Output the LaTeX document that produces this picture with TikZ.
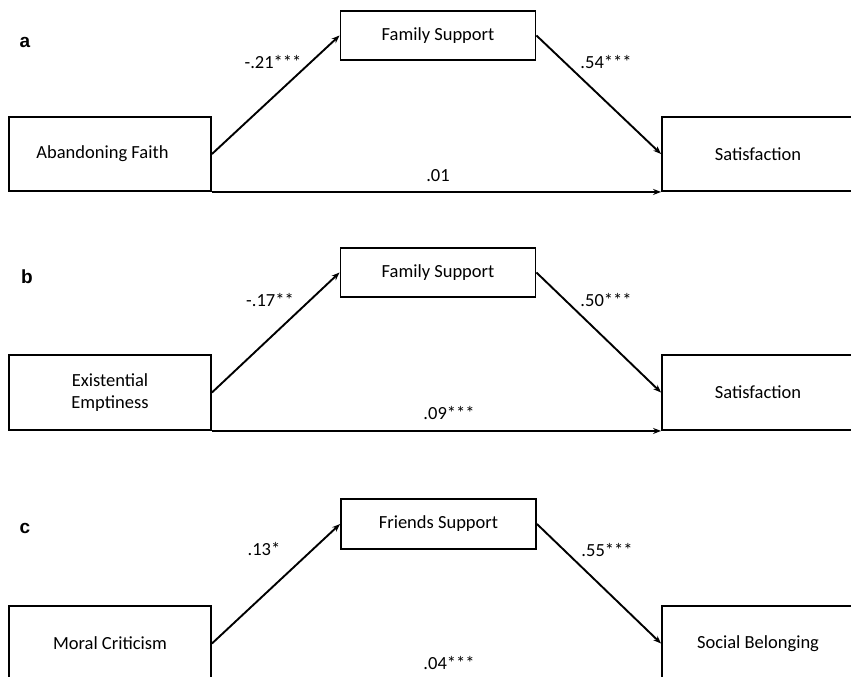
\documentclass[tikz,border=0pt]{standalone}
\usepackage{fontspec}
\setmainfont{Carlito}
\newfontfamily\panelfont{Liberation Sans}
\usetikzlibrary{arrows.meta}
\begin{document}
\begin{tikzpicture}[x=1pt,y=-1pt,
  box/.style={draw, line width=1.9pt, inner sep=0pt, align=center,
    font=\fontsize{18.5}{22}\selectfont},
  coef/.style={inner sep=0pt, font=\fontsize{18.5}{22}\selectfont},
  panel/.style={inner sep=0pt, font=\panelfont\bfseries\fontsize{19}{22}\selectfont},
  conn/.style={line width=1.9pt, -{Stealth[length=8pt,width=6pt]}}]
\useasboundingbox (0,0) rectangle (851,677);
\clip (0,0) rectangle (851,677);
% panel a
\node[panel] (pa) at (25,42) {a};
\node[box, minimum width=195pt, minimum height=49pt] (fsa) at (438,35.5) {Family Support};
\node[box, minimum width=202pt, minimum height=74pt] (afa) at (110,154) {\hspace*{-15pt}Abandoning Faith};
\node[box, minimum width=192pt, minimum height=74pt] (saa) at (758,154) {Satisfaction};
\draw[conn] (afa.east) -- (fsa.west);
\draw[conn] (fsa.east) -- (saa.west);
\draw[conn] (afa.south east) -- (saa.south west);
\node[coef] (ca1) at (273,62) {-.21***};
\node[coef] (ca2) at (606,62) {.54***};
\node[coef] (ca3) at (438,176) {.01};
% panel b
\node[panel] (pb) at (27,277) {b};
\node[box, minimum width=195pt, minimum height=49pt] (fsb) at (438,272.5) {Family Support};
\node[box, minimum width=202pt, minimum height=75pt] (exb) at (110,392.5) {Existential\\Emptiness};
\node[box, minimum width=192pt, minimum height=75pt] (sab) at (758,392.5) {Satisfaction};
\draw[conn] (exb.east) -- (fsb.west);
\draw[conn] (fsb.east) -- (sab.west);
\draw[conn] (exb.south east) -- (sab.south west);
\node[coef] (cb1) at (270,300) {-.17**};
\node[coef] (cb2) at (606,300) {.50***};
\node[coef] (cb3) at (449,413) {.09***};
% panel c
\node[panel] (pc) at (25,528) {c};
\node[box, minimum width=195pt, minimum height=50pt] (fsc) at (438.5,524) {Friends Support};
\node[box, minimum width=202pt, minimum height=75pt] (mcc) at (110,643.5) {Moral Criticism};
\node[box, minimum width=192pt, minimum height=75pt] (sbc) at (758,643.5) {Social Belonging};
\draw[conn] (mcc.east) -- (fsc.west);
\draw[conn] (fsc.east) -- (sbc.west);
\node[coef] (cc1) at (264,549) {.13*};
\node[coef] (cc2) at (607,550) {.55***};
\node[coef] (cc3) at (449,663) {.04***};
\end{tikzpicture}
\end{document}
